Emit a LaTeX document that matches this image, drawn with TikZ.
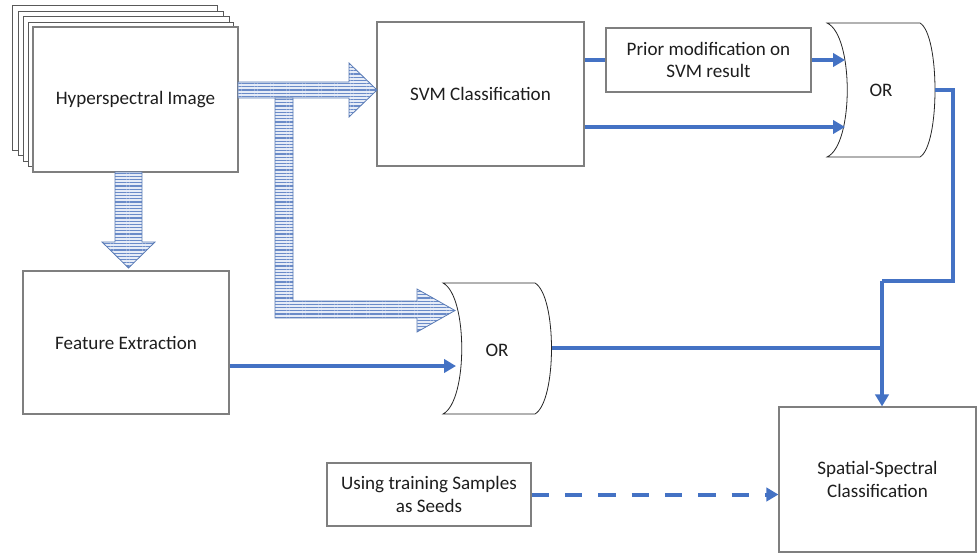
\documentclass[tikz,border=0pt]{standalone}
\usepackage{fontspec}
\setmainfont{Carlito}
\usetikzlibrary{arrows.meta,patterns.meta}

\definecolor{flowblue}{HTML}{4472C4}
\definecolor{fatedge}{HTML}{5A7BB5}
\definecolor{fatstripe}{HTML}{6A8BC8}
\definecolor{fatfill}{HTML}{E6ECF7}
\definecolor{boxedge}{HTML}{7F7F7F}
\definecolor{inktext}{HTML}{1E1E1E}

\tikzset{
  box/.style={draw=boxedge, line width=0.9pt, fill=white, align=center,
    font=\fontsize{14.3}{16.8}\selectfont, text=inktext, inner sep=0pt},
  sheet/.style={draw=black!65, line width=0.7pt, fill=white},
  gate/.style={draw=black!85, line width=0.6pt, fill=white},
  conn/.style={draw=flowblue, line width=3pt},
  connarrow/.style={conn, -{Triangle[length=9pt,width=10pt]}},
  fatarrow/.style={draw=fatedge, line width=0.6pt, preaction={fill=fatfill},
    pattern={Lines[angle=0,distance=2.4pt,line width=1pt]}, pattern color=fatstripe},
  gatelabel/.style={font=\fontsize{14.3}{16.8}\selectfont, text=inktext},
}

\begin{document}
\begin{tikzpicture}[x=0.75pt, y=-0.75pt]
  \useasboundingbox (0,0) rectangle (977,554);

  % stack of sheets behind the hyperspectral image
  \draw[sheet] (12,5) rectangle (217,150);
  \draw[sheet] (18,11) rectangle (223,155);
  \draw[sheet] (23,16) rectangle (229,161);
  \draw[sheet] (28,22) rectangle (233,166);
  \node[box, minimum width=153.75pt, minimum height=108.75pt] (hsi) at (135.5,99.5) {Hyperspectral Image};

  % process boxes
  \node[box, minimum width=155.25pt, minimum height=108pt] (svm) at (480.5,94) {SVM Classification};
  \node[box, minimum width=153.75pt, minimum height=48pt] (prior) at (708.5,60) {Prior modification on\\SVM result};
  \node[box, minimum width=154.5pt, minimum height=107.25pt] (feat) at (126,342.5) {Feature Extraction};
  \node[box, minimum width=153pt, minimum height=47.25pt] (seeds) at (429,494.5) {Using training Samples\\as Seeds};
  \node[box, minimum width=147.75pt, minimum height=108.75pt] (spatial) at (877.5,479.5) {Spatial-Spectral\\Classification};

  % wide striped arrows
  \path[fatarrow] (142,172) -- (142,242) -- (155,242) -- (128.5,268) -- (102,242) -- (115,242) -- (115,172) -- cycle;
  \path[fatarrow] (238,82) -- (349,82) -- (349,63) -- (377,90) -- (349,117) -- (349,98) -- (238,98) -- cycle;
  \path[fatarrow] (275,98) -- (293,98) -- (293,301) -- (417,301) -- (417,289) -- (455,310.5) -- (417,332) -- (417,318) -- (275,318) -- cycle;

  % OR gates
  \draw[gate] (827,23) -- (920,23) .. controls (940,35) and (940,145) .. (920,157)
     -- (827,157) .. controls (854,145) and (854,35) .. (827,23) -- cycle;
  \node[gatelabel] (or1) at (881,90) {OR};
  \draw[gate] (443,283) -- (535,283) .. controls (557,296) and (557,401) .. (535,414)
     -- (443,414) .. controls (468,401) and (468,296) .. (443,283) -- cycle;
  \node[gatelabel] (or2) at (497,350) {OR};

  % gate ports and bends
  \coordinate (or1inA) at (845,60);
  \coordinate (or1inB) at (845,127);
  \coordinate (or1out) at (935,90);
  \coordinate (bendA) at (953,281);
  \coordinate (join) at (882,281);
  \coordinate (or2in) at (456,366);
  \coordinate (or2out) at (552,348);

  % blue connectors
  \draw[conn] (svm.east |- prior.west) -- (prior.west);
  \draw[connarrow] (prior.east) -- (or1inA);
  \draw[connarrow] (svm.east |- or1inB) -- (or1inB);
  \draw[conn] (or1out) -| (bendA) -- (join);
  \draw[connarrow] (join) -- (join |- spatial.north);
  \draw[conn] (or2out) -- (join |- or2out);
  \draw[connarrow] (feat.east |- or2in) -- (or2in);
  \draw[connarrow, dash pattern=on 13pt off 12pt] (seeds.east) -- (spatial.west |- seeds.east);
\end{tikzpicture}
\end{document}
